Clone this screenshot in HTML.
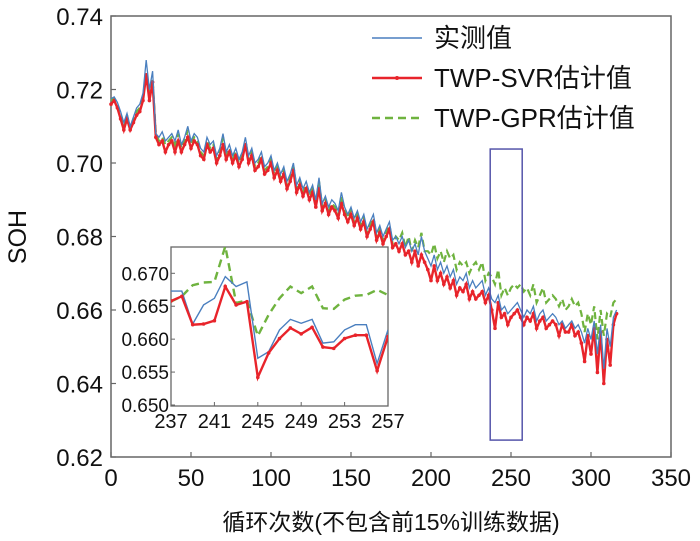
<!DOCTYPE html>
<html><head><meta charset="utf-8"><style>
html,body{margin:0;padding:0;background:#fff}
svg{display:block;font-family:"Liberation Sans","Noto Sans CJK SC",sans-serif}
</style></head><body>
<svg id="chart" width="700" height="541" viewBox="0 0 700 541">
<g id="main-plot"></g>
<g id="inset"></g>
<g id="legend">
  <line x1="372" y1="38" x2="422" y2="38" stroke="#4a7fbf" stroke-width="1.5"/>
  <text x="434" y="47" font-size="26" fill="#111">实测值</text>
  <line x1="372" y1="78" x2="422" y2="78" stroke="#e8242b" stroke-width="2.5"/>
  <circle cx="397" cy="78" r="2" fill="#e8242b"/>
  <text x="434" y="87" font-size="26" fill="#111">TWP-SVR估计值</text>
  <line x1="372" y1="118" x2="422" y2="118" stroke="#6fb33f" stroke-width="2.5" stroke-dasharray="8,5"/>
  <text x="434" y="127" font-size="26" fill="#111">TWP-GPR估计值</text>
</g>
</svg>
<script>
const xTicks=[0,50,100,150,200,250,300,350];
const yTicks=[0.62,0.64,0.66,0.68,0.70,0.72,0.74];
const cycles=[];for(let i=0;i<=316;i+=2)cycles.push(i);
const measured=[717.5,718,716.5,714,711,713.5,710,712.5,715,716,719,728,720,725,708,707,708.5,706,707,708,706,709,705,707,710,706,708,707,704,703,
707,705,706,702,704,708,703,705,702,704,701,703,707,702,704,700,701,703,699,700,
702,698,700,697,699,695,697,700,694,696,693,695,692,694,690,696,689,691,688,690,
689,687,692,688,686,688,685,687,684,686,682,684,686,681,683,680,682,684,679,680,
678,680,677,679,676,678,675,680,676,674,672,675,671,673,670,672,669,671,667,669,
668,670,666,668,666,667,668,664,666,663,662,664,660,661,659,660,661,662,660,658,
660,659,661,657,659,660,657,658,659,658,656,657,655,656,657,655,656,654,651,655,
652,657,648,656,644,655,650,658,660];
const svrEst=[716,717,715,712,709,712,709,711,713,714,717,724,717,722,707,705,706,703,705,706,703,706,703,705,707,704,706,705,702,701,
705,703,704,700,702,705,701,703,700,702,699,701,705,700,702,698,699,701,697,698,
700,696,698,695,697,693,695,698,692,694,691,693,690,692,688,693,687,689,686,688,
687,685,689,686,684,686,683,685,682,684,680,682,684,679,681,678,680,682,677,678,
676,678,675,676,673,676,672,675,673,671,668,672,668,670,667,669,666,668,664,666,
665,667,663,665,663,664,665,662,664,660,655,662,658,659,656,658,659,660,658,656,
658,657,659,655,657,658,655,656,657,656,653,656,654,654,656,653,654,651,646,653,
648,655,643,654,640,652,645,656,659];
const gprEst=[717,717.5,716,713,710,713,709,712,714,715,718,724,719,723,708,706,707,705,706,707,705,708,704,706,709,705,707,706,703,702,
706,704,705,701,703,707,702,704,701,703,700,702,706,701,703,699,700,702,698,699,
701,697,699,696,698,694,696,699,693,695,692,694,691,693,689,695,688,690,687,689,
688,686,691,687,685,687,684,686,683,685,681,683,685,680,682,679,681,683,678,680,
679,681,677,680,676,679,677,681,676,676,675,678,674,676,673,676,674,675,671,673,
672,673,670,672,673,671,673,668,670,669,667,671,664,666,664,666,667,666,667,665,
666,664,667,662,664,666,662,663,664,663,661,663,660,661,663,661,662,659,654,659,
656,661,652,660,653,659,658,662,663];
const insetCycles=[237,238,239,240,241,242,243,244,245,246,247,248,249,250,251,252,253,254,255,256,257];
const insetMeasured=[667.3,667.3,662.3,665.2,666.2,669.5,668,668.7,657.1,658.1,661.4,663,662.4,663,659.4,659.6,661.4,662.2,662.2,656.3,661.4];
const insetSvr=[665.8,666.5,662.2,662.3,662.8,668,665.2,665.7,654.2,657.9,660.1,661.7,660.8,661.8,658.8,658.6,660.1,660.6,660.6,655.2,660.4];
const insetGpr=[665.7,666.5,668.2,668.6,668.7,674.1,665.5,665.9,660.5,663.7,666.2,668,667,668,664.7,664.6,666,666.6,666.7,667.5,666.7];
const insetXTicks=[237,241,245,249,253,257];
const insetYTicks=[0.650,0.655,0.660,0.665,0.670];
const zoomBox=[237,257,0.6246,0.7038];

const NS="http://www.w3.org/2000/svg";
function mk(tag,attrs,parent){const e=document.createElementNS(NS,tag);for(const k in attrs)e.setAttribute(k,attrs[k]);parent.appendChild(e);return e;}
const L=111,R=671,T=16,B=457;
const xs=v=>L+(v-0)/350*(R-L);
const ys=v=>B-(v-0.62)/0.12*(B-T);
const main=document.getElementById('main-plot');

let fr=mk('rect',{x:L,y:T,width:R-L,height:B-T,fill:'none',stroke:'#666','stroke-width':1.5},main);


xTicks.forEach(t=>{
  let l=mk('line',{x1:xs(t),x2:xs(t),y1:B,y2:B-5,stroke:'#666','stroke-width':1.2},main);
  
  
  let tx=mk('text',{x:xs(t),y:B+29,'font-size':24,'text-anchor':'middle',fill:'#111'},main);
  tx.textContent=t;
  
  
});
yTicks.forEach(t=>{
  let l=mk('line',{x1:L,x2:L+5,y1:ys(t),y2:ys(t),stroke:'#666','stroke-width':1.2},main);
  
  
  let tx=mk('text',{x:L-8,y:ys(t)+9,'font-size':24,'text-anchor':'end',fill:'#111'},main);
  tx.textContent=t.toFixed(2);
  
  
});
let yt=mk('text',{x:26,y:237,'font-size':25,'text-anchor':'middle',fill:'#111',transform:'rotate(-90 26 237)'},main);
yt.textContent='SOH';


let xt=mk('text',{x:391,y:530,'font-size':23,'text-anchor':'middle',fill:'#111'},main);
xt.textContent='循环次数(不包含前15%训练数据)';



function series(xarr,varr,xf,yf,attrs,parent,name){
  const n=Math.min(xarr.length,varr.length);
  let d='';for(let i=0;i<n;i++)d+=(i?'L':'M')+xf(xarr[i]).toFixed(1)+','+yf(varr[i]/1000).toFixed(1);
  const p=mk('path',Object.assign({d:d,fill:'none'},attrs),parent);
  
  
  return n;
}
series(cycles,gprEst,xs,ys,{stroke:'#6fb33f','stroke-width':2.2,'stroke-dasharray':'7,4'},main,'gpr-series');
series(cycles,svrEst,xs,ys,{stroke:'#e8242b','stroke-width':2.4},main,'svr-series');
const nS=Math.min(cycles.length,svrEst.length);
for(let i=0;i<nS;i++){
  let c=mk('circle',{cx:xs(cycles[i]),cy:ys(svrEst[i]/1000),r:1.8,fill:'#e8242b'},main);
  
  
}
series(cycles,measured,xs,ys,{stroke:'#4a7fbf','stroke-width':1.3},main,'measured-series');

let zb=mk('rect',{x:xs(zoomBox[0]),y:ys(zoomBox[3]),width:xs(zoomBox[1])-xs(zoomBox[0]),height:ys(zoomBox[2])-ys(zoomBox[3]),fill:'none',stroke:'#5555aa','stroke-width':1.5},main);



const ins=document.getElementById('inset');
const iL=171,iR=388,iT=247,iB=406;
const ixs=v=>iL+(v-237)/20*(iR-iL);
const iys=v=>405-(v-0.65)/0.02*131.7;
let ibg=mk('rect',{x:iL,y:iT,width:iR-iL,height:iB-iT,fill:'#fff',stroke:'#666','stroke-width':1.3},ins);


const defs=mk('defs',{},ins);
const cp=mk('clipPath',{id:'iclip'},defs);
mk('rect',{x:iL,y:iT,width:iR-iL,height:iB-iT},cp);
const ig=mk('g',{'clip-path':'url(#iclip)'},ins);
series(insetCycles,insetGpr,ixs,iys,{stroke:'#6fb33f','stroke-width':2.4,'stroke-dasharray':'8,5'},ig,'inset-gpr-series');
series(insetCycles,insetMeasured,ixs,iys,{stroke:'#4a7fbf','stroke-width':1.4},ig,'inset-measured-series');
series(insetCycles,insetSvr,ixs,iys,{stroke:'#e8242b','stroke-width':2.4},ig,'inset-svr-series');
for(let i=0;i<insetCycles.length;i++){
  let c=mk('circle',{cx:ixs(insetCycles[i]),cy:iys(insetSvr[i]/1000),r:1.8,fill:'#e8242b'},ig);
  
  
}
insetXTicks.forEach(t=>{
  let l=mk('line',{x1:ixs(t),x2:ixs(t),y1:iB,y2:iB-4,stroke:'#666','stroke-width':1},ins);
  
  
  let tx=mk('text',{x:ixs(t),y:iB+22,'font-size':20,'text-anchor':'middle',fill:'#111'},ins);
  tx.textContent=t;
  
  
});
insetYTicks.forEach(t=>{
  let l=mk('line',{x1:iL,x2:iL+4,y1:iys(t),y2:iys(t),stroke:'#666','stroke-width':1},ins);
  
  
  let tx=mk('text',{x:iL-2,y:iys(t)+7,'font-size':19,'text-anchor':'end',fill:'#111'},ins);
  tx.textContent=t.toFixed(3);
  
  
});
</script>
</body></html>
